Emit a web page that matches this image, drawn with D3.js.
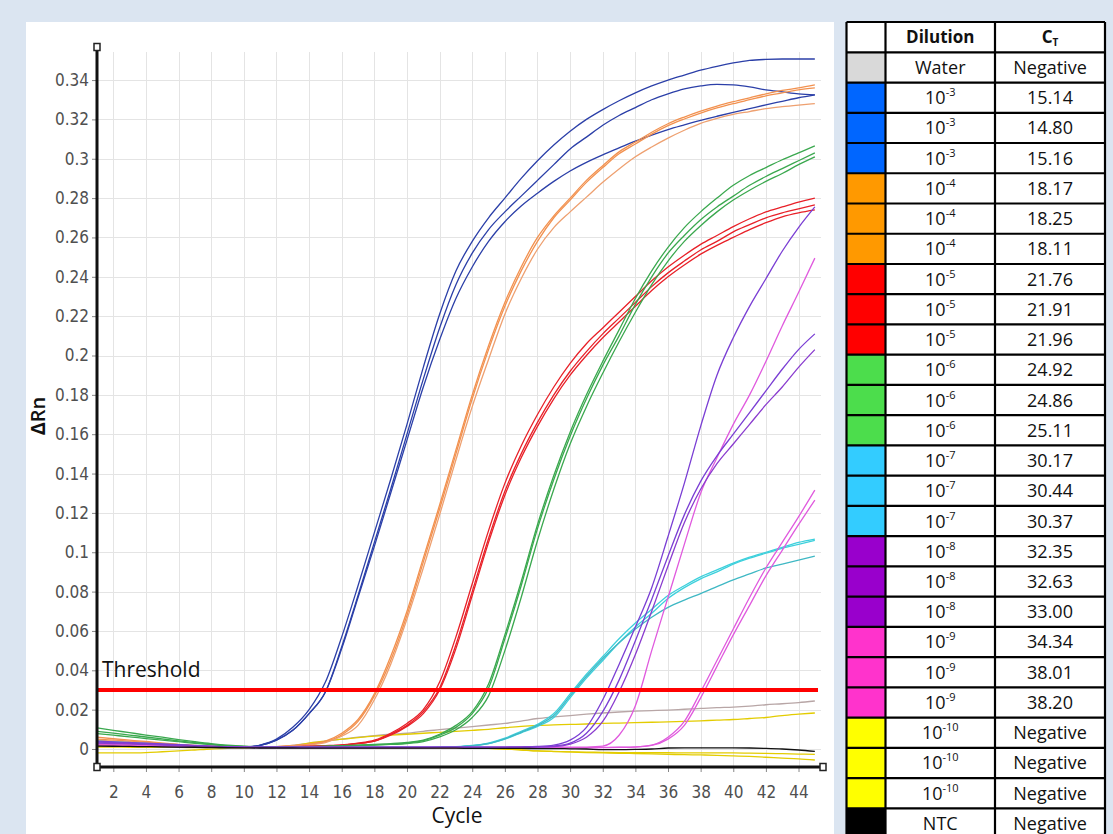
<!DOCTYPE html>
<html>
<head>
<meta charset="utf-8">
<script src="https://cdn.jsdelivr.net/npm/d3@7/dist/d3.min.js"></script>
<style>
	body { margin: 0; background: #dbe5f1; }
	svg { display: block; }
	.axis line { stroke: #888; }
	.grid line { stroke: #e4e4e4; stroke-width: 1; }
	.curve { fill: none; stroke-width: 1.3; }
	.tbl text { font-family: "Open Sans", sans-serif; font-size: 18px; fill: #111; }
</style>
</head>
<body>
<svg id="chart" width="1113" height="834"></svg>
<script>

const cycles = [1, 2, 3, 4, 5, 6, 7, 8, 9, 10, 11, 12, 13, 14, 15, 16, 17, 18, 19, 20,
	21, 22, 23, 24, 25, 26, 27, 28, 29, 30, 31, 32, 33, 34, 35, 36, 37, 38, 39, 40, 41, 42, 43, 44, 45];

const water = [.002, .0018, .0016, .0014, .0012, .001, .0008, .0007, .0006, .0006,
	.0007, .001, .0018, .003, .004, .005, .006, .0068, .0075, .008,
	.009, .0098, .0106, .0114, .0122, .013, .0142, .0155, .0163, .017,
	.0177, .0183, .0188, .0192, .0195, .0198, .0202, .0206, .021, .0213,
	.0218, .0225, .023, .0236, .0244];

const blue1 = [.004, .0037, .0033, .0028, .0023, .0018, .0014, .0011, .0009, .001,
	.002, .005, .011, .02, .034, .057, .083, .11, .137, .165,
	.194, .221, .243, .258, .27, .28, .29, .299, .307, .314,
	.32, .325, .3295, .3335, .337, .34, .3425, .345, .347, .3487,
	.35, .3505, .3507, .3507, .3507];
const blue2 = [.003, .0028, .0025, .0022, .0019, .0015, .0012, .001, .0008, .0009,
	.0018, .0045, .0095, .018, .029, .052, .078, .105, .132, .16,
	.188, .214, .236, .252, .264, .273, .281, .289, .297, .305,
	.311, .317, .322, .326, .33, .333, .3355, .337, .3378, .3375,
	.3365, .335, .334, .333, .3325];
const blue3 = [.002, .002, .0018, .0015, .0012, .001, .0008, .0007, .0006, .0008,
	.0018, .0045, .0095, .018, .029, .051, .077, .103, .13, .157,
	.184, .208, .229, .245, .258, .268, .276, .2825, .2885, .2938,
	.2982, .302, .3055, .309, .312, .3148, .3172, .3195, .3216, .3236,
	.3255, .3274, .3292, .331, .3325];

const orange1 = [.006, .0052, .0045, .0038, .003, .0024, .0018, .0014, .0011, .001,
	.001, .0012, .0018, .0025, .004, .008, .015, .028, .047, .07,
	.097, .124, .152, .18, .205, .227, .245, .26, .271, .28,
	.289, .2965, .3035, .3085, .3135, .3178, .3212, .3242, .3268, .329,
	.331, .333, .3347, .336, .3375];
const orange2 = [.005, .0045, .004, .0034, .0028, .0022, .0017, .0013, .001, .0009,
	.001, .0012, .0016, .0023, .0037, .0072, .014, .027, .045, .068,
	.095, .122, .15, .178, .203, .225, .243, .258, .27, .279,
	.288, .2955, .3025, .3075, .3125, .3168, .3202, .3232, .3258, .328,
	.33, .332, .3335, .335, .336];
const orange3 = [.0045, .004, .0035, .003, .0025, .002, .0015, .0012, .001, .0009,
	.0009, .0011, .0015, .0021, .0033, .0065, .012, .025, .043, .066,
	.092, .119, .147, .174, .198, .221, .239, .254, .265, .273,
	.2805, .288, .2948, .301, .306, .3105, .3145, .318, .3205, .3225,
	.324, .3255, .3265, .3273, .328];

const red1 = [.003, .0028, .0026, .0023, .002, .0017, .0014, .0012, .001, .001,
	.001, .001, .0012, .0014, .0017, .0021, .003, .0045, .008, .013,
	.02, .034, .057, .084, .111, .135, .154, .17, .184, .196,
	.206, .214, .222, .23, .238, .245, .251, .2565, .261, .2655,
	.2695, .273, .2755, .278, .28];
const red2 = [.0028, .0026, .0024, .0021, .0019, .0016, .0013, .0011, .001, .0009,
	.0009, .0009, .0011, .0013, .0016, .002, .0028, .004, .0075, .012,
	.019, .031, .053, .08, .107, .131, .15, .166, .18, .192,
	.202, .211, .219, .227, .235, .242, .248, .2536, .258, .2628,
	.2665, .27, .2725, .2745, .2765];
const red3 = [.0025, .0023, .0021, .0019, .0017, .0015, .0012, .001, .0009, .0008,
	.0008, .0008, .001, .0012, .0015, .0019, .0027, .004, .007, .0115,
	.018, .03, .051, .078, .105, .129, .148, .164, .178, .19,
	.2, .209, .217, .225, .233, .24, .246, .2515, .256, .26,
	.264, .2675, .2705, .2725, .274];

const green1 = [.0107, .0095, .0083, .0071, .006, .0048, .0037, .0027, .0019, .0014,
	.0012, .0011, .0011, .0012, .0014, .0017, .002, .0023, .0027, .0033,
	.0045, .0075, .012, .019, .033, .058, .085, .114, .139, .161,
	.18, .197, .213, .229, .243, .255, .265, .273, .28, .2865,
	.2915, .2955, .2995, .303, .3065];
const green2 = [.009, .0081, .0071, .0061, .0051, .0041, .0032, .0024, .0017, .0013,
	.0011, .001, .001, .0011, .0013, .0015, .0018, .0021, .0025, .003,
	.0042, .007, .011, .018, .031, .056, .083, .112, .137, .159,
	.178, .195, .21, .226, .24, .252, .261, .269, .2755, .281,
	.2865, .291, .295, .299, .303];
const green3 = [.0078, .007, .0062, .0053, .0045, .0037, .0029, .0022, .0016, .0012,
	.001, .0009, .0009, .001, .0012, .0014, .0017, .002, .0023, .0028,
	.0038, .0062, .0098, .016, .027, .05, .077, .106, .132, .155,
	.174, .191, .207, .222, .236, .248, .258, .266, .273, .279,
	.284, .2885, .2925, .297, .301];

const cyan1 = [.004, .0036, .0032, .0028, .0024, .002, .0016, .0012, .001, .0008,
	.0007, .0007, .0007, .0007, .0007, .0007, .0008, .0008, .0008, .0008,
	.0008, .0009, .0012, .0018, .003, .0055, .009, .0125, .018, .028,
	.038, .047, .056, .064, .071, .078, .083, .0875, .091, .0945,
	.0975, .1, .1025, .105, .1067];
const cyan2 = [.0035, .0032, .0029, .0026, .0022, .0018, .0014, .0011, .0009, .0008,
	.0007, .0006, .0006, .0006, .0006, .0006, .0007, .0007, .0007, .0007,
	.0007, .0008, .0011, .0016, .0027, .005, .0082, .0115, .016, .026,
	.036, .045, .054, .062, .069, .0765, .082, .0865, .09, .094,
	.097, .0995, .102, .104, .106];
const cyan3 = [.003, .0028, .0025, .0022, .0019, .0016, .0013, .001, .0008, .0007,
	.0006, .0006, .0006, .0006, .0006, .0006, .0006, .0006, .0007, .0007,
	.0007, .0008, .0011, .0017, .0028, .0052, .0085, .012, .017, .027,
	.037, .046, .054, .061, .067, .072, .0757, .079, .0825, .086,
	.089, .092, .094, .096, .098];

const purple1 = [.004, .0036, .0033, .003, .0026, .0022, .0018, .0014, .0011, .001,
	.0009, .0009, .0009, .0009, .0009, .0009, .0009, .0009, .0009, .0009,
	.0009, .001, .001, .001, .001, .001, .0011, .0013, .002, .0045,
	.011, .025, .043, .062, .082, .108, .135, .164, .19, .209,
	.225, .239, .253, .265, .2755];
const purple2 = [.0035, .0032, .0029, .0026, .0023, .002, .0016, .0013, .0011, .001,
	.0009, .0009, .0009, .0009, .0009, .0009, .0009, .0009, .0009, .0009,
	.0009, .0009, .0009, .0009, .0009, .0009, .001, .0011, .0015, .003,
	.008, .019, .035, .055, .076, .098, .119, .136, .149, .16,
	.171, .182, .193, .203, .211];
const purple3 = [.003, .0028, .0026, .0023, .002, .0017, .0014, .0012, .001, .0009,
	.0008, .0008, .0008, .0008, .0008, .0008, .0008, .0008, .0008, .0008,
	.0008, .0008, .0008, .0008, .0008, .0008, .0009, .001, .0012, .0025,
	.006, .014, .029, .048, .07, .093, .115, .132, .145, .155,
	.165, .175, .184, .194, .203];

const magenta1 = [.003, .0028, .0025, .0022, .002, .0017, .0014, .0012, .001, .0009,
	.0008, .0008, .0008, .0008, .0008, .0008, .0008, .0008, .0008, .0008,
	.0008, .0008, .0008, .0008, .0008, .0008, .0008, .0008, .0009, .0009,
	.001, .0015, .007, .022, .05, .077, .104, .13, .148, .165,
	.18, .197, .215, .232, .2495];
const magenta2 = [.0025, .0023, .0021, .0019, .0017, .0015, .0012, .001, .0009, .0008,
	.0007, .0007, .0007, .0007, .0007, .0007, .0007, .0007, .0007, .0007,
	.0007, .0007, .0007, .0007, .0007, .0007, .0007, .0007, .0007, .0007,
	.0007, .0008, .0009, .0011, .002, .006, .014, .029, .045, .061,
	.077, .092, .105, .118, .1316];
const magenta3 = [.002, .0019, .0018, .0016, .0014, .0012, .001, .0009, .0008, .0007,
	.0006, .0006, .0006, .0006, .0006, .0006, .0006, .0006, .0006, .0006,
	.0006, .0006, .0006, .0006, .0006, .0006, .0006, .0006, .0006, .0006,
	.0006, .0007, .0008, .001, .0018, .005, .012, .026, .042, .058,
	.073, .088, .101, .114, .1265];

const yellow1 = [.0015, .0014, .0013, .0012, .0011, .001, .0009, .0008, .0008, .0008,
	.0008, .0009, .0015, .003, .004, .005, .0058, .0065, .007, .0075,
	.008, .0085, .009, .0095, .01, .0108, .0115, .012, .0123, .0125,
	.0127, .013, .0132, .0134, .0136, .0138, .014, .0143, .0147, .015,
	.0155, .016, .017, .0177, .0183];
const yellow2 = [-.002, -.002, -.002, -.0018, -.0014, -.001, -.0005, 0, .0003, .0005,
	.0005, .0005, .0005, .0005, .0005, .0005, .0005, .0005, .0005, .0005,
	.0005, .0005, .0005, .0005, .0003, 0, -.0005, -.001, -.0012, -.0015,
	-.0016, -.0017, -.0018, -.0018, -.0019, -.0019, -.002, -.002, -.002, -.002,
	-.0021, -.0022, -.0024, -.0026, -.0027];
const yellow3 = [.001, .001, .0009, .0009, .0008, .0008, .0007, .0007, .0006, .0006,
	.0005, .0005, .0005, .0005, .0005, .0005, .0005, .0005, .0005, .0005,
	.0005, .0005, .0005, .0005, .0003, 0, -.0004, -.001, -.0013, -.0015,
	-.0018, -.002, -.0022, -.0023, -.0025, -.0027, -.0029, -.003, -.0032, -.0035,
	-.0038, -.0042, -.0046, -.005, -.0056];

const ntc = [.0015, .0014, .0013, .0012, .0011, .001, .0009, .0008, .0007, .0006,
	.0005, .0005, .0005, .0004, .0004, .0004, .0004, .0004, .0004, .0004,
	.0004, .0004, .0004, .0003, .0003, .0003, .0003, .0002, .0002, .0001,
	0, -.0003, -.0003, -.0002, 0, .0005, .0006, .0006, .0006, .0006,
	.0005, .0003, 0, -.0005, -.0012];

const threshold = 0.03;

const yTicks = [0, .02, .04, .06, .08, .1, .12, .14, .16, .18, .2, .22, .24, .26, .28, .3, .32, .34];
const xTicks = [2, 4, 6, 8, 10, 12, 14, 16, 18, 20, 22, 24, 26, 28, 30, 32, 34, 36, 38, 40, 42, 44];

// table contents
const dilutions = ["Water", "-3", "-3", "-3", "-4", "-4", "-4", "-5", "-5", "-5", "-6", "-6", "-6",
	"-7", "-7", "-7", "-8", "-8", "-8", "-9", "-9", "-9", "-10", "-10", "-10", "NTC"];
const ctValues = ["Negative", "15.14", "14.80", "15.16", "18.17", "18.25", "18.11", "21.76", "21.91", "21.96",
	"24.92", "24.86", "25.11", "30.17", "30.44", "30.37", "32.35", "32.63", "33.00",
	"34.34", "38.01", "38.20", "Negative", "Negative", "Negative", "Negative"];
const swatchColors = ["#d9d9d9", "#0066ff", "#0066ff", "#0066ff", "#ff9900", "#ff9900", "#ff9900",
	"#ff0000", "#ff0000", "#ff0000", "#4cdd4c", "#4cdd4c", "#4cdd4c", "#33ccff", "#33ccff", "#33ccff",
	"#9900cc", "#9900cc", "#9900cc", "#ff33cc", "#ff33cc", "#ff33cc", "#ffff00", "#ffff00", "#ffff00", "#000000"];

const curves = [
	{ values: water, color: "#b8a6a6" },
	{ values: yellow1, color: "#e3cc00" },
	{ values: yellow2, color: "#e3cc00" },
	{ values: yellow3, color: "#e3cc00" },
	{ values: blue1, color: "#2b3fa8" },
	{ values: blue2, color: "#2b3fa8" },
	{ values: blue3, color: "#2b3fa8" },
	{ values: orange1, color: "#f2914f" },
	{ values: orange2, color: "#f2914f" },
	{ values: orange3, color: "#eea070" },
	{ values: red1, color: "#e82028" },
	{ values: red2, color: "#e82028" },
	{ values: red3, color: "#e82028" },
	{ values: green1, color: "#3aa84e" },
	{ values: green2, color: "#3aa84e" },
	{ values: green3, color: "#3aa84e" },
	{ values: cyan1, color: "#3dd0dc" },
	{ values: cyan2, color: "#3dd0dc" },
	{ values: cyan3, color: "#3fb8c4" },
	{ values: magenta1, color: "#e05ade" },
	{ values: magenta2, color: "#e05ade" },
	{ values: magenta3, color: "#e05ade" },
	{ values: purple1, color: "#7a3ed4" },
	{ values: purple2, color: "#7a3ed4" },
	{ values: purple3, color: "#8a3ccf" },
	{ values: ntc, color: "#111111" }
];

const svg = d3.select("#chart");

// white panel behind the plot
svg.append("rect")
	.attr("x", 26).attr("y", 22)
	.attr("width", 808).attr("height", 812)
	.attr("fill", "#fff");

const plot = { left: 97, right: 823, top: 47, bottom: 767 };

const x = d3.scaleLinear()
	.domain([1, 45.5])
	.range([plot.left, plot.right]);

const y = d3.scaleLinear()
	.domain([-0.00915, 0.3568])
	.range([plot.bottom, plot.top]);

// gridlines
const grid = svg.append("g").attr("class", "grid");

grid.selectAll("line.h")
	.data(yTicks)
	.join("line")
	.attr("class", "h")
	.attr("x1", plot.left).attr("x2", plot.right - 2)
	.attr("y1", d => Math.round(y(d)) + 0.5)
	.attr("y2", d => Math.round(y(d)) + 0.5);

grid.selectAll("line.v")
	.data(xTicks)
	.join("line")
	.attr("class", "v")
	.attr("x1", d => Math.round(x(d)) + 0.5)
	.attr("x2", d => Math.round(x(d)) + 0.5)
	.attr("y1", plot.top + 5).attr("y2", plot.bottom);

// axes: labels in a narrow grey face, no domain path
function styleAxis(g) {
	g.attr("font-family", null).attr("font-size", null);
	g.select(".domain").remove();
	g.selectAll("text")
		.attr("font-family", "DejaVu Sans Condensed, DejaVu Sans, sans-serif")
		.attr("font-size", 17)
		.attr("fill", "#505050");
}

const yAxis = d3.axisLeft(y)
	.tickValues(yTicks)
	.tickSize(5)
	.tickPadding(3)
	.tickFormat(d3.format(".2~f"));

svg.append("g")
	.attr("class", "axis")
	.attr("transform", `translate(${plot.left},0)`)
	.call(yAxis)
	.call(styleAxis);

const xAxis = d3.axisBottom(x)
	.tickValues(xTicks)
	.tickSize(5)
	.tickPadding(14)
	.tickFormat(d3.format("d"));

svg.append("g")
	.attr("class", "axis")
	.attr("transform", `translate(0,${plot.bottom})`)
	.call(xAxis)
	.call(styleAxis);

// amplification curves
const line = d3.line()
	.x((d, i) => x(cycles[i]))
	.y(d => y(d))
	.curve(d3.curveMonotoneX);

svg.append("g")
	.selectAll("path")
	.data(curves)
	.join("path")
	.attr("class", "curve")
	.attr("stroke", d => d.color)
	.attr("d", d => line(d.values));

// threshold
svg.append("line")
	.attr("x1", plot.left).attr("x2", plot.right - 5)
	.attr("y1", y(threshold)).attr("y2", y(threshold))
	.attr("stroke", "#ff0000")
	.attr("stroke-width", 4);

svg.append("text")
	.attr("x", 102).attr("y", 677)
	.attr("font-family", "Open Sans, sans-serif")
	.attr("font-size", 21)
	.attr("fill", "#111")
	.text("Threshold");

// axis lines with the small end markers
svg.append("path")
	.attr("d", `M${plot.left},${plot.top}V${plot.bottom}H${plot.right}`)
	.attr("fill", "none")
	.attr("stroke", "#111")
	.attr("stroke-width", 3);

svg.selectAll("rect.marker")
	.data([[plot.left, plot.top], [plot.left, plot.bottom], [plot.right, plot.bottom]])
	.join("rect")
	.attr("class", "marker")
	.attr("x", d => d[0] - 3).attr("y", d => d[1] - 3.5)
	.attr("width", 6).attr("height", 7)
	.attr("fill", "#fff")
	.attr("stroke", "#222")
	.attr("stroke-width", 1.5);

// axis titles
svg.append("text")
	.attr("x", 457).attr("y", 823)
	.attr("text-anchor", "middle")
	.attr("font-family", "Open Sans, sans-serif")
	.attr("font-size", 21)
	.attr("fill", "#111")
	.text("Cycle");

const yTitle = svg.append("text")
	.attr("transform", "translate(45,416) rotate(-90)")
	.attr("text-anchor", "middle")
	.attr("font-family", "Open Sans, sans-serif")
	.attr("font-size", 20)
	.attr("font-weight", "bold")
	.attr("fill", "#111");
yTitle.append("tspan").text("Δ");
yTitle.append("tspan").attr("font-weight", "600").text("Rn");

// table
const tbl = { cols: [846.5, 885.5, 995, 1105], top: 22, header: 52.3, rowH: 30.24 };
const table = svg.append("g").attr("class", "tbl");

table.append("rect")
	.attr("x", tbl.cols[0]).attr("y", tbl.top)
	.attr("width", tbl.cols[3] - tbl.cols[0])
	.attr("height", 834 - tbl.top)
	.attr("fill", "#fff");

const rowTop = i => tbl.header + i * tbl.rowH;

table.selectAll("rect.swatch")
	.data(swatchColors)
	.join("rect")
	.attr("class", "swatch")
	.attr("x", tbl.cols[0]).attr("y", (d, i) => rowTop(i))
	.attr("width", tbl.cols[1] - tbl.cols[0])
	.attr("height", tbl.rowH)
	.attr("fill", d => d);

// header
const head = table.append("g")
	.attr("font-weight", "bold");
head.append("text")
	.attr("x", (tbl.cols[1] + tbl.cols[2]) / 2).attr("y", 43)
	.attr("text-anchor", "middle")
	.style("font-size", "17px")
	.text("Dilution");
const ct = head.append("text")
	.attr("x", (tbl.cols[2] + tbl.cols[3]) / 2).attr("y", 43)
	.attr("text-anchor", "middle")
	.style("font-size", "17px");
ct.append("tspan").text("C");
ct.append("tspan").attr("dy", 3).style("font-size", "10px").text("T");

const rows = table.selectAll("g.row")
	.data(dilutions)
	.join("g")
	.attr("class", "row");

rows.each(function(d, i) {
	const g = d3.select(this);
	const base = rowTop(i) + tbl.rowH / 2 + 6.5;
	const t = g.append("text")
		.attr("x", (tbl.cols[1] + tbl.cols[2]) / 2)
		.attr("y", base)
		.attr("text-anchor", "middle");
	if (d === "Water" || d === "NTC")
		t.text(d);
	else {
		t.append("tspan").text("10");
		t.append("tspan").attr("dy", -8).style("font-size", "11px").text(d);
	}
	g.append("text")
		.attr("x", (tbl.cols[2] + tbl.cols[3]) / 2)
		.attr("y", base)
		.attr("text-anchor", "middle")
		.text(ctValues[i]);
});

// table borders
const hLines = [tbl.top, ...dilutions.map((d, i) => rowTop(i))];
table.selectAll("line.hb")
	.data(hLines)
	.join("line")
	.attr("class", "hb")
	.attr("x1", tbl.cols[0]).attr("x2", tbl.cols[3])
	.attr("y1", d => d).attr("y2", d => d)
	.attr("stroke", "#000").attr("stroke-width", 2.2);

table.selectAll("line.vb")
	.data(tbl.cols)
	.join("line")
	.attr("class", "vb")
	.attr("x1", d => d).attr("x2", d => d)
	.attr("y1", tbl.top).attr("y2", 834)
	.attr("stroke", "#000").attr("stroke-width", 2.2);

</script>
</body>
</html>
